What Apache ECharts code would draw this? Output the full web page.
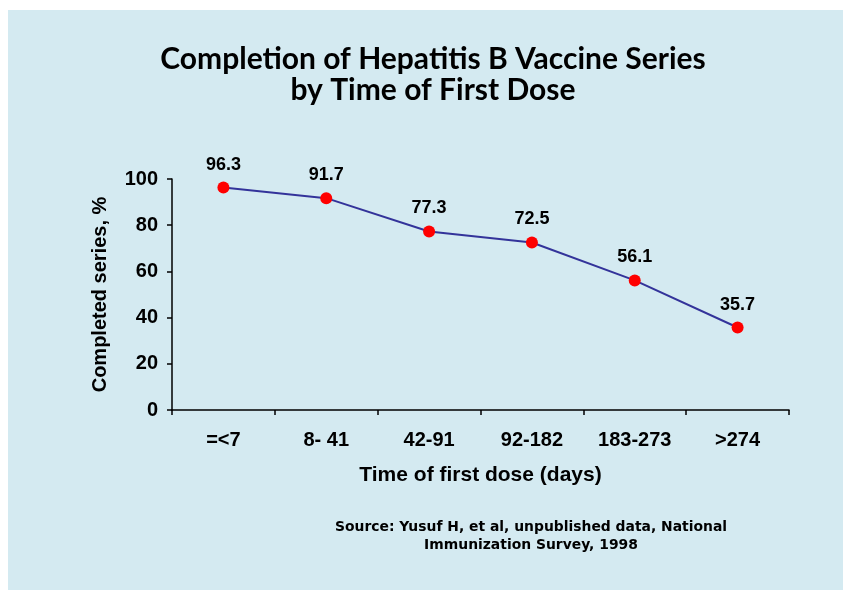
<!DOCTYPE html>
<html>
<head>
<meta charset="utf-8">
<script src="https://cdn.jsdelivr.net/npm/echarts@6/dist/echarts.min.js"></script>
<style>
html,body{margin:0;padding:0;background:#ffffff;}
#chart{width:843px;height:590px;}
</style>
</head>
<body>
<div id="chart"></div>
<script>
var titleLines = ["Completion of Hepatitis B Vaccine Series", "by Time of First Dose"];
var categories = ["=<7", "8- 41", "42-91", "92-182", "183-273", ">274"];
var completed = [96.3, 91.7, 77.3, 72.5, 56.1, 35.7];
var yTicks = {min: 0, max: 100, interval: 20};
var xAxisName = "Time of first dose (days)";
var yAxisName = "Completed series, %";
var sourceLines = ["Source: Yusuf H, et al, unpublished data, National", "Immunization Survey, 1998"];

var chart = echarts.init(document.getElementById('chart'), null, {renderer: 'canvas'});
var option = {
  backgroundColor: '#ffffff',
  animation: false,
  graphic: [
    {type: 'rect', left: 8, top: 10, z: -10, shape: {width: 835, height: 580}, style: {fill: '#d4eaf1'}},
    {type: 'text', x: 433, y: 59, style: {
      text: titleLines[0], fill: '#000', font: 'bold 30px Lato', align: 'center', verticalAlign: 'middle'
    }},
    {type: 'text', x: 433, y: 90, style: {
      text: titleLines[1], fill: '#000', font: 'bold 30px Lato', align: 'center', verticalAlign: 'middle'
    }},
    {type: 'text', x: 531, y: 518, style: {
      text: sourceLines.join('\n'), fill: '#000', font: 'bold 13.9px "DejaVu Sans"', align: 'center', lineHeight: 18
    }}
  ],
  grid: {left: 172, right: 54, top: 179, bottom: 180, containLabel: false},
  xAxis: {
    type: 'category',
    data: categories,
    boundaryGap: true,
    name: xAxisName,
    nameLocation: 'middle',
    nameGap: 55,
    nameTextStyle: {fontFamily: 'Liberation Sans', fontWeight: 'bold', fontSize: 21, color: '#000'},
    axisLine: {lineStyle: {color: '#000', width: 1.5}},
    axisTick: {show: true, length: 5, inside: false, alignWithLabel: false, lineStyle: {color: '#000', width: 1.5}},
    axisLabel: {margin: 20, fontFamily: 'Liberation Sans', fontWeight: 'bold', fontSize: 20, color: '#000', interval: 0},
    splitLine: {show: false}
  },
  yAxis: {
    type: 'value',
    min: yTicks.min, max: yTicks.max, interval: yTicks.interval,
    name: yAxisName,
    nameLocation: 'middle',
    nameGap: 62,
    nameRotate: 90,
    nameTextStyle: {fontFamily: 'Liberation Sans', fontWeight: 'bold', fontSize: 20, color: '#000'},
    axisLine: {show: true, lineStyle: {color: '#000', width: 1.5}},
    axisTick: {show: true, length: 5, inside: false, lineStyle: {color: '#000', width: 1.5}},
    axisLabel: {margin: 14, fontFamily: 'Liberation Sans', fontWeight: 'bold', fontSize: 20, color: '#000'},
    splitLine: {show: false}
  },
  series: [{
    type: 'line',
    data: completed,
    symbol: 'circle',
    symbolSize: 12,
    lineStyle: {color: '#33339a', width: 2},
    itemStyle: {color: '#ff0000', borderWidth: 0},
    label: {show: true, position: 'top', distance: 8, fontFamily: 'Liberation Sans', fontWeight: 'bold', fontSize: 18, color: '#000'}
  }]
};
chart.setOption(option);
</script>
</body>
</html>
